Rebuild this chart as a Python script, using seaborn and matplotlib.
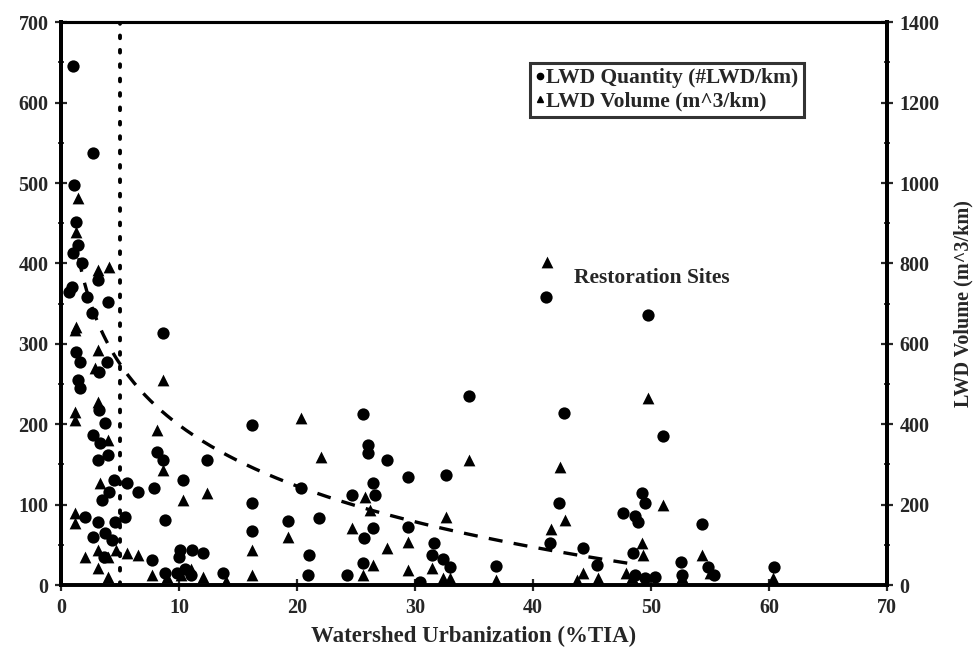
import numpy as np
import pandas as pd
import matplotlib
matplotlib.use("Agg")
import matplotlib.pyplot as plt
import seaborn as sns
from matplotlib.ticker import MultipleLocator
from matplotlib.lines import Line2D

# %%
# LWD quantity (#LWD/km), left axis
qty_tia = [1.0, 2.7, 1.1, 1.3, 1.4, 1.0, 1.8, 3.1, 0.9, 0.7, 2.2, 4.0, 2.6,
           8.6, 1.3, 1.6, 3.9, 3.2, 1.4, 1.6, 3.2, 3.7, 2.7, 3.3, 3.1, 4.0,
           8.1, 8.6, 10.3, 4.5, 5.6, 6.5, 7.9, 4.1, 3.5, 2.0, 3.1, 8.8, 4.6,
           5.4, 2.7, 3.7, 4.3, 3.6, 7.7, 10.1, 11.1, 8.8, 9.8, 10.5, 10.0, 11.0,
           12.4, 16.2, 16.2, 16.2, 12.0, 13.7, 20.3, 19.2, 21.9, 21.0, 20.9, 24.2,
           25.6, 26.0, 26.0, 27.6, 29.4, 24.7, 26.4, 26.6, 26.4, 25.7, 29.4, 25.6,
           30.4, 34.6, 32.6, 31.6, 31.4, 32.4, 33.0, 36.9, 42.6, 42.2, 41.4, 44.2,
           45.4, 47.6, 48.6, 48.9, 49.2, 51.0, 49.5, 54.3, 52.5, 54.8, 55.3, 60.4,
           52.6, 48.5, 48.6, 49.5, 50.3, 49.7, 41.1]
qty_val = [645, 537, 497, 452, 423, 413, 400, 379, 371, 364, 358, 352, 338,
           313, 290, 277, 277, 265, 255, 245, 218, 201, 187, 177, 155, 162,
           165, 155, 131, 131, 127, 116, 121, 116, 106, 85, 78, 81, 78,
           85, 60, 65, 56, 35, 31, 44, 44, 15, 15, 20, 35, 12,
           155, 199, 102, 67, 40, 15, 121, 80, 83, 37, 12, 12,
           213, 174, 164, 155, 134, 112, 127, 112, 71, 58, 72, 27,
           4, 235, 137, 52, 37, 32, 22, 24, 214, 102, 52, 46,
           25, 90, 86, 78, 115, 185, 102, 76, 29, 22, 12, 22,
           12, 40, 12, 9, 10, 336, 358]

# LWD volume (m^3/km), right axis
vol_tia = [1.4, 1.3, 3.1, 4.1, 1.3, 1.2, 3.1, 2.9, 8.6, 3.1, 1.2, 1.2, 8.1,
           4.0, 8.6, 3.3, 10.3, 1.2, 1.2, 2.0, 3.1, 5.6, 6.5, 4.0, 4.7, 3.1,
           4.0, 7.7, 9.0, 10.2, 11.0, 12.4, 16.2, 16.2, 12.0, 20.3, 22.0, 19.2,
           25.8, 26.2, 24.7, 27.6, 29.4, 26.4, 25.6, 29.4, 34.6, 32.6, 31.4, 32.4,
           33.0, 36.9, 42.3, 42.7, 41.5, 44.2, 45.5, 43.7, 49.7, 51.0, 49.2, 54.3,
           49.3, 60.3, 41.2, 14.0, 47.9, 48.4, 55.0, 52.6]
vol_val = [962, 878, 784, 792, 642, 634, 584, 540, 510, 456, 430, 410, 386,
           360, 286, 254, 212, 180, 154, 70, 88, 80, 74, 70, 88, 42,
           20, 24, 20, 24, 40, 228, 88, 24, 20, 416, 318, 120,
           220, 186, 142, 92, 106, 50, 24, 38, 310, 170, 42, 18,
           18, 12, 294, 162, 140, 30, 18, 12, 466, 198, 104, 74,
           74, 18, 804, 10, 30, 20, 30, 20]

# points (left axis units)
trend_tia = [1.6, 2.3, 3.1, 4.5, 5.2, 7.7, 9.7, 12.6, 20.3, 23.8, 27.7, 32.4, 37.2, 41.3, 46.5]
trend_val = [400, 361, 321, 289, 271, 233, 205, 172, 122, 100, 82, 66, 52, 46, 40]

df_qty = pd.DataFrame({"TIA": qty_tia, "LWD": qty_val})
df_vol = pd.DataFrame({"TIA": vol_tia, "LWD": vol_val})

# %%
sns.set_style("white")
plt.rcParams["font.family"] = ["Liberation Serif", "DejaVu Serif"]
plt.rcParams["font.weight"] = "bold"

fig = plt.figure(figsize=(9.78, 6.53), dpi=100)
ax = fig.add_axes([0.0624, 0.104, 0.8446, 0.862])
ax2 = ax.twinx()

sns.scatterplot(data=df_qty, x="TIA", y="LWD", ax=ax, marker="o", s=78,
                color="black", edgecolor="black", linewidth=0, zorder=3)
sns.scatterplot(data=df_vol, x="TIA", y="LWD", ax=ax2, marker="^", s=72,
                color="black", edgecolor="black", linewidth=0, zorder=3)

# log trend fitted to the dashed curve
coef = np.polyfit(np.log(trend_tia), trend_val, 1)
xs = np.linspace(1.5, 48, 200)
ax.plot(xs, coef[0] * np.log(xs) + coef[1], color="black", lw=2.4,
        dashes=(4.2, 3.4), zorder=2)

ax.axvline(5, color="black", lw=2.8, linestyle=(0, (0.7, 3.0)),
           dash_capstyle="round", zorder=2)

ax.set_xlim(0, 70)
ax.set_ylim(0, 700)
ax2.set_ylim(0, 1400)
ax.xaxis.set_major_locator(MultipleLocator(10))
ax.xaxis.set_minor_locator(MultipleLocator(5))
ax.yaxis.set_major_locator(MultipleLocator(100))
ax.yaxis.set_minor_locator(MultipleLocator(50))
ax2.yaxis.set_major_locator(MultipleLocator(200))
ax2.yaxis.set_minor_locator(MultipleLocator(100))

for a in (ax, ax2):
    a.tick_params(which="major", direction="inout", length=8, width=1.6,
                  labelsize=14.5, pad=5)
    a.tick_params(which="minor", direction="inout", length=5, width=1.3)
    for sp in a.spines.values():
        sp.set_color("black")
    a.spines["left"].set_linewidth(2.8)
    a.spines["bottom"].set_linewidth(2.6)
    a.spines["right"].set_linewidth(2.8)
    a.spines["top"].set_linewidth(2.2)
ax.tick_params(axis="y", left=True, right=False)
ax.tick_params(axis="x", bottom=True)
ax2.tick_params(axis="y", right=True, left=False)

ax.set_xlabel("Watershed Urbanization (%TIA)", fontsize=16.5, fontweight="bold",
              labelpad=6)
ax.set_ylabel("")
ax2.set_ylabel("LWD Volume (m^3/km)", fontsize=14.5, fontweight="bold",
               labelpad=10)

ax.text(43.5, 382, "Restoration Sites", fontsize=15.5, fontweight="bold",
        va="center", ha="left")

handles = [
    Line2D([], [], marker="o", color="black", linestyle="none", markersize=4.5),
    Line2D([], [], marker="^", color="black", linestyle="none", markersize=4.5),
]
leg = ax.legend(handles, ["LWD Quantity (#LWD/km)", "LWD Volume (m^3/km)"],
                loc="upper left", bbox_to_anchor=(0.568, 0.928),
                frameon=True, fancybox=False, fontsize=15.5, handlelength=0.4,
                handletextpad=0.1, borderpad=0.25, labelspacing=0.15,
                borderaxespad=0)
leg.get_frame().set_edgecolor("black")
leg.get_frame().set_linewidth(2.2)
for t in leg.get_texts():
    t.set_fontweight("bold")

fig.savefig("out.png", dpi=100)
